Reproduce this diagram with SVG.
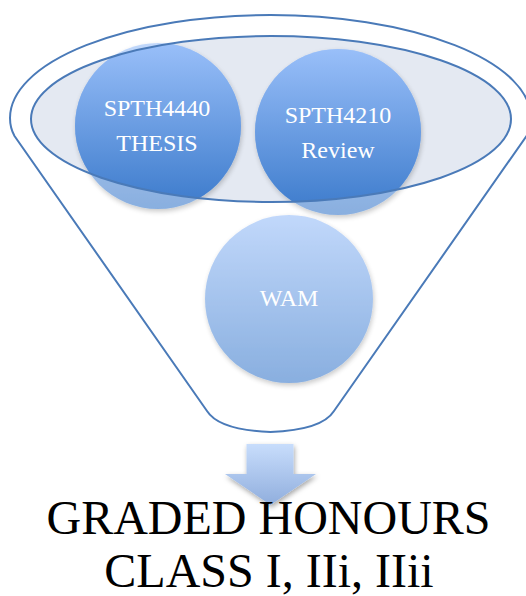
<svg xmlns="http://www.w3.org/2000/svg" width="526" height="596" viewBox="0 0 526 596">
<style>
.lbl{font-family:"Liberation Serif","Times New Roman",serif;font-size:24px;fill:#ffffff;text-anchor:middle}
.big{font-family:"Liberation Serif","Times New Roman",serif;font-size:48px;fill:#000000;text-anchor:middle}
.line{fill:none;stroke:#4a7ab8;stroke-width:2}
</style>
<defs>
<linearGradient id="cg" x1="0" y1="0" x2="0" y2="1">
<stop offset="0" stop-color="#99bff9"/>
<stop offset="1" stop-color="#3b7acb"/>
</linearGradient>
<linearGradient id="ag" x1="0" y1="0" x2="0" y2="1">
<stop offset="0" stop-color="#c8ddfc"/>
<stop offset="1" stop-color="#90aedd"/>
</linearGradient>
<filter id="sh" x="-20%" y="-20%" width="140%" height="140%">
<feDropShadow dx="1" dy="2.5" stdDeviation="2.5" flood-color="#000" flood-opacity="0.35"/>
</filter>
<clipPath id="ec"><ellipse cx="271" cy="119" rx="240" ry="83"/></clipPath>
</defs>
<g id="funnel">
<path class="line" d="M14.5,136 Q10,128 10,118 A260.5,103 0 0 1 531,118 Q531,128 526.5,136 L334,411 Q322,430 270.5,432 Q219,430 207,411 Z"/>
</g>
<g id="rim">
<ellipse cx="271" cy="119" rx="240" ry="83" fill="#e4e9f2"/>
</g>
<g id="n1">
<circle cx="158" cy="126" r="83" fill="url(#cg)" opacity="0.6" filter="url(#sh)"/>
<circle cx="158" cy="126" r="83" fill="url(#cg)" clip-path="url(#ec)"/>
</g>
<g id="n2">
<circle cx="338" cy="132" r="83" fill="url(#cg)" opacity="0.6" filter="url(#sh)"/>
<circle cx="338" cy="132" r="83" fill="url(#cg)" clip-path="url(#ec)"/>
</g>
<g id="rim-outline">
<ellipse class="line" cx="271" cy="119" rx="240" ry="83"/>
</g>
<g id="n3">
<circle cx="289" cy="299" r="84" fill="url(#cg)" opacity="0.6" filter="url(#sh)"/>
<text class="lbl" x="289" y="306">WAM</text>
</g>
<g id="labels">
<text class="lbl" x="157" y="116">SPTH4440</text>
<text class="lbl" x="157" y="151">THESIS</text>
<text class="lbl" x="338" y="123">SPTH4210</text>
<text class="lbl" x="338" y="158">Review</text>
</g>
<g id="connectors">
<path d="M246.5,444 L293.5,444 L293.5,474 L316,474 L270.5,505 L225,474 L246.5,474 Z" fill="url(#ag)" filter="url(#sh)"/>
</g>
<g id="result">
<text class="big" x="268.5" y="534">GRADED HONOURS</text>
<text class="big" x="269" y="587">CLASS I, IIi, IIii</text>
</g>
</svg>
